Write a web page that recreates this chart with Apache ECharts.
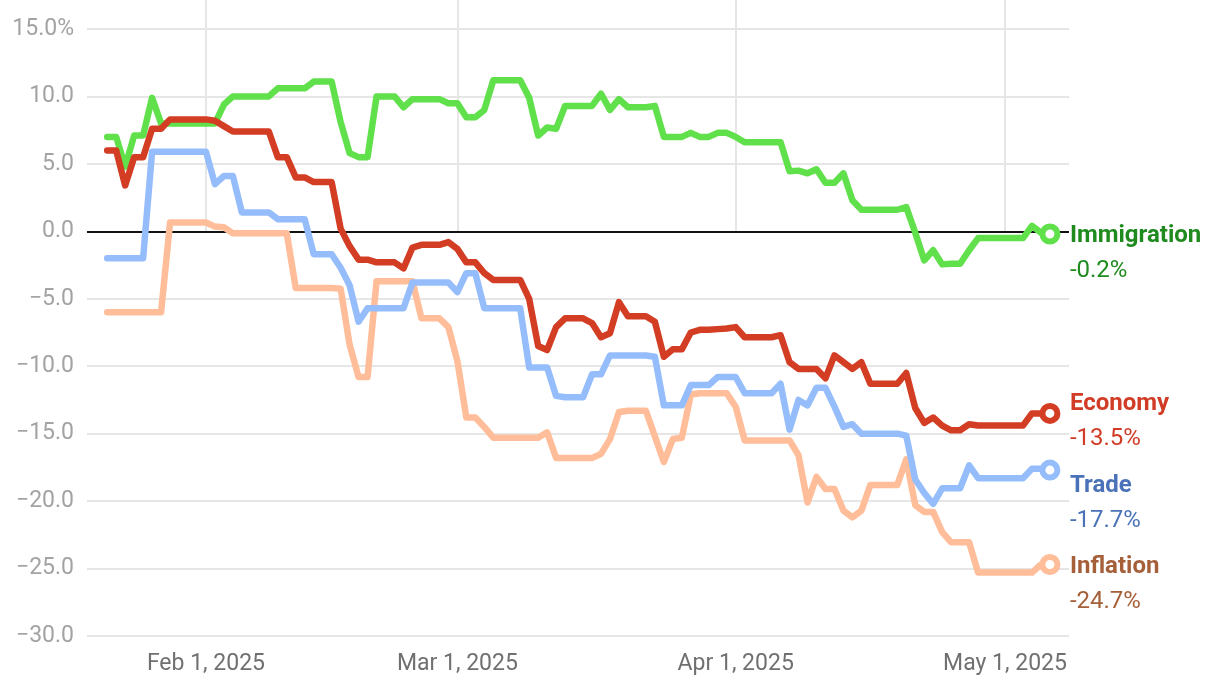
<!DOCTYPE html>
<html>
<head>
<meta charset="utf-8">
<script src="https://cdn.jsdelivr.net/npm/echarts@6/dist/echarts.min.js"></script>
<style>
  html, body { margin: 0; padding: 0; background: #fff; }
  #chart { width: 1220px; height: 694px; }
</style>
</head>
<body>
<div id="chart"></div>
<script>
// ---------- DATA ----------
const startDate = [2025, 0, 21];   // first daily observation (Jan 21, 2025)
const seriesNames = ['Inflation', 'Trade', 'Immigration', 'Economy'];

const immigration = [7.0, 7.0, 4.8, 7.1, 7.1, 9.9, 8.0, 8.0, 8.0, 8.0,
  8.0, 8.0, 8.0, 9.4, 10.0, 10.0, 10.0, 10.0, 10.0, 10.6,
  10.6, 10.6, 10.6, 11.1, 11.1, 11.1, 8.1, 5.8, 5.5, 5.5,
  10.0, 10.0, 10.0, 9.2, 9.8, 9.8, 9.8, 9.8, 9.5, 9.5,
  8.45, 8.45, 9.0, 11.2, 11.2, 11.2, 11.2, 9.9, 7.1, 7.7,
  7.6, 9.3, 9.3, 9.3, 9.3, 10.2, 9.0, 9.8, 9.2, 9.2,
  9.2, 9.3, 7.0, 7.0, 7.0, 7.3, 7.0, 7.0, 7.3, 7.3,
  7.0, 6.6, 6.6, 6.6, 6.6, 6.6, 4.45, 4.5, 4.3, 4.6,
  3.6, 3.6, 4.3, 2.3, 1.6, 1.6, 1.6, 1.6, 1.6, 1.8,
  -0.1, -2.15, -1.4, -2.45, -2.4, -2.4, -1.4, -0.5, -0.5, -0.5,
  -0.5, -0.5, -0.5, 0.4, -0.1, -0.2];

const economy = [6.0, 6.0, 3.4, 5.5, 5.5, 7.6, 7.6, 8.3, 8.3, 8.3,
  8.3, 8.3, 8.2, 7.8, 7.4, 7.4, 7.4, 7.4, 7.4, 5.5,
  5.5, 4.0, 4.0, 3.65, 3.65, 3.65, 0.2, -1.1, -2.1, -2.1,
  -2.3, -2.3, -2.3, -2.75, -1.2, -1.0, -1.0, -1.0, -0.8, -1.3,
  -2.3, -2.3, -3.1, -3.6, -3.6, -3.6, -3.6, -5.0, -8.5, -8.8,
  -7.1, -6.45, -6.45, -6.45, -6.8, -7.85, -7.55, -5.25, -6.3, -6.3,
  -6.3, -6.7, -9.3, -8.75, -8.75, -7.5, -7.3, -7.3, -7.25, -7.2,
  -7.1, -7.85, -7.85, -7.85, -7.85, -7.7, -9.7, -10.2, -10.2, -10.2,
  -10.9, -9.2, -9.7, -10.2, -9.7, -11.3, -11.3, -11.3, -11.3, -10.5,
  -13.1, -14.2, -13.8, -14.4, -14.75, -14.75, -14.3, -14.4, -14.4, -14.4,
  -14.4, -14.4, -14.4, -13.5, -13.5, -13.5];

const trade = [-2.0, -2.0, -2.0, -2.0, -2.0, 5.9, 5.9, 5.9, 5.9, 5.9,
  5.9, 5.9, 3.5, 4.1, 4.1, 1.4, 1.4, 1.4, 1.4, 0.9,
  0.9, 0.9, 0.9, -1.7, -1.7, -1.7, -2.7, -4.0, -6.7, -5.7,
  -5.7, -5.7, -5.7, -5.7, -3.8, -3.8, -3.8, -3.8, -3.8, -4.5,
  -3.1, -3.1, -5.7, -5.7, -5.7, -5.7, -5.7, -10.1, -10.1, -10.1,
  -12.2, -12.3, -12.3, -12.3, -10.6, -10.6, -9.2, -9.2, -9.2, -9.2,
  -9.2, -9.3, -12.9, -12.9, -12.9, -11.4, -11.4, -11.4, -10.8, -10.8,
  -10.8, -12.0, -12.0, -12.0, -12.0, -11.3, -14.7, -12.5, -12.9, -11.6,
  -11.6, -13.0, -14.5, -14.3, -15.0, -15.0, -15.0, -15.0, -15.0, -15.15,
  -18.4, -19.4, -20.2, -19.05, -19.05, -19.05, -17.35, -18.3, -18.3, -18.3,
  -18.3, -18.3, -18.3, -17.6, -17.6, -17.7];

const inflation = [-6.0, -6.0, -6.0, -6.0, -6.0, -6.0, -6.0, 0.65, 0.65, 0.65,
  0.65, 0.65, 0.35, 0.3, -0.15, -0.15, -0.15, -0.15, -0.15, -0.15,
  -0.15, -4.2, -4.2, -4.2, -4.2, -4.2, -4.25, -8.4, -10.8, -10.8,
  -3.7, -3.7, -3.7, -3.7, -3.7, -6.45, -6.45, -6.45, -7.1, -9.6,
  -13.8, -13.8, -14.5, -15.3, -15.3, -15.3, -15.3, -15.3, -15.3, -14.9,
  -16.8, -16.8, -16.8, -16.8, -16.8, -16.5, -15.4, -13.4, -13.3, -13.3,
  -13.3, -15.2, -17.1, -15.4, -15.3, -12.1, -12.0, -12.0, -12.0, -12.0,
  -13.0, -15.5, -15.5, -15.5, -15.5, -15.5, -15.5, -16.6, -20.1, -18.2,
  -19.1, -19.1, -20.7, -21.2, -20.7, -18.8, -18.8, -18.8, -18.8, -16.9,
  -20.3, -20.8, -20.8, -22.3, -23.05, -23.05, -23.05, -25.3, -25.3, -25.3,
  -25.3, -25.3, -25.3, -25.3, -24.7, -24.7];

const xTickDates = [[2025, 1, 1], [2025, 2, 1], [2025, 3, 1], [2025, 4, 1]];
const xTickLabels = ['Feb 1, 2025', 'Mar 1, 2025', 'Apr 1, 2025', 'May 1, 2025'];
const yTickValues = [-30, -25, -20, -15, -10, -5, 0, 5, 10, 15];
const yTickLabels = ['\u221230.0', '\u221225.0', '\u221220.0', '\u221215.0', '\u221210.0', '\u22125.0', '0.0', '5.0', '10.0', '15.0%'];

// ---------- STYLE ----------
const FONT = "Roboto, 'Liberation Sans', sans-serif";
const lineColors = { Inflation: '#ffbd99', Trade: '#96bdfb', Immigration: '#60e04a', Economy: '#d33d24' };
const labelColors = { Inflation: '#a5603a', Trade: '#4a72b8', Immigration: '#1f8b1f', Economy: '#d03c25' };
const labelOffsets = { Inflation: [0, 20], Trade: [0, 33], Immigration: [0, 19], Economy: [0, 8.5] };
const valuesByName = { Inflation: inflation, Trade: trade, Immigration: immigration, Economy: economy };

function dayTs(i) {
  return new Date(startDate[0], startDate[1], startDate[2] + i).getTime();
}
const xTickTs = xTickDates.map(d => new Date(d[0], d[1], d[2]).getTime());
const xMin = new Date(2025, 0, 18, 18).getTime();
const xMax = new Date(2025, 4, 8, 3).getTime();

const series = seriesNames.map((name, si) => {
  const vals = valuesByName[name];
  const last = vals.length - 1;
  const s = {
    name: name,
    type: 'line',
    data: vals.map((v, i) => [dayTs(i), v]),
    z: 2 + si,
    lineStyle: { color: lineColors[name], width: 6.5, join: 'round', cap: 'round' },
    itemStyle: { color: '#fff', borderColor: lineColors[name], borderWidth: 6 },
    symbol: (val, params) => params.dataIndex === last ? 'circle' : 'none',
    symbolSize: 15,
    showSymbol: true,
    showAllSymbol: true,
    emphasis: { disabled: true },
    endLabel: {
      show: true,
      distance: 20,
      offset: labelOffsets[name],
      formatter: () => '{n|' + name + '}\n{v|' + vals[last].toFixed(1) + '%}',
      rich: {
        n: { fontFamily: FONT, fontSize: 24, fontWeight: 'bold', color: labelColors[name], lineHeight: 35 },
        v: { fontFamily: FONT, fontSize: 24, color: labelColors[name], lineHeight: 35 }
      }
    }
  };
  if (si === 0) {
    s.markLine = {
      silent: true,
      symbol: 'none',
      label: { show: false },
      lineStyle: { color: '#111', width: 2, type: 'solid' },
      data: [{ yAxis: 0 }],
      z: 1
    };
  }
  return s;
});

const chart = echarts.init(document.getElementById('chart'), null, { renderer: 'canvas' });
chart.setOption({
  animation: false,
  backgroundColor: '#fff',
  grid: { left: 87, right: 151, top: 29, bottom: 58, outerBoundsMode: 'none' },
  xAxis: {
    type: 'value',
    min: xMin,
    max: xMax,
    axisLine: { show: false },
    splitLine: { show: false },
    axisTick: {
      show: true,
      inside: true,
      length: 607,
      customValues: xTickTs,
      lineStyle: { color: '#e6e6e6', width: 2 }
    },
    axisLabel: {
      customValues: xTickTs,
      fontFamily: FONT,
      fontSize: 23,
      color: '#707070',
      margin: 17,
      formatter: (v) => {
        const k = xTickTs.indexOf(v);
        return k >= 0 ? xTickLabels[k] : '';
      }
    }
  },
  yAxis: {
    type: 'value',
    min: -30,
    max: 15,
    interval: 5,
    axisLine: { show: false },
    axisTick: { show: false },
    splitLine: { lineStyle: { color: '#e6e6e6', width: 2 } },
    axisLabel: {
      fontFamily: FONT,
      fontSize: 23,
      color: '#a3a3a3',
      margin: 13,
      formatter: (v) => {
        const k = yTickValues.indexOf(v);
        return k >= 0 ? yTickLabels[k] : '';
      }
    }
  },
  series: series
});
</script>
</body>
</html>
